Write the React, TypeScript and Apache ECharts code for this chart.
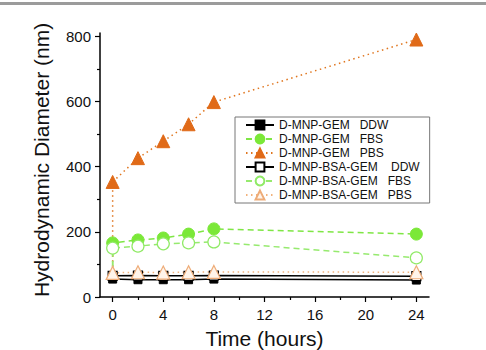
import { useEffect, useRef } from "react";
import * as echarts from "echarts";

// Sampling times (hours)
const hours = [0, 2, 4, 6, 8, 24];

// Hydrodynamic diameter (nm) per formulation and medium
const gemDDW = [55, 53, 53, 53, 55, 52];
const gemFBS = [166, 175, 181, 193, 209, 193];
const gemPBS = [353, 426, 478, 530, 598, 790];
const bsaDDW = [65, 66, 65, 65, 66, 64];
const bsaFBS = [150, 156, 163, 166, 169, 120];
const bsaPBS = [74, 76, 75, 76, 77, 76];

// Size of the particles before the medium is added (t = 0)
const startSize = 62;

// Axis ticks
const xTicks = [0, 4, 8, 12, 16, 20, 24];
const xMinorTicks = [2, 6, 10, 14, 18, 22];
const yTicks = [0, 200, 400, 600, 800];
const yMinorTicks = [100, 300, 500, 700];

const FONT = "'Liberation Sans', Arial, Helvetica, sans-serif";
const INK = "#111";

function points(values: number[], fromStart = false) {
  const d: any[] = hours.map((h, i) => [h, values[i]]);
  if (fromStart) d.unshift({ value: [0, startSize], symbol: "none" });
  return d;
}

export default function App() {
  const ref = useRef<HTMLDivElement>(null);

  useEffect(() => {
    if (!ref.current) return;
    const chart = echarts.init(ref.current, undefined, { renderer: "svg" });

    const lineSeries = (
      name: string,
      data: any[],
      symbol: string,
      symbolSize: number,
      lineColor: string,
      lineType: any,
      fill: string,
      border: string,
      borderWidth: number
    ) => ({
      name,
      type: "line",
      data,
      symbol,
      symbolSize,
      showAllSymbol: true,
      lineStyle: { color: lineColor, width: 1.5, type: lineType },
      itemStyle: { color: fill, borderColor: border, borderWidth },
      emphasis: { disabled: true },
    });

    chart.setOption({
      animation: false,
      backgroundColor: "#fff",
      textStyle: { fontFamily: FONT },
      graphic: [
        {
          type: "rect",
          shape: { x: 0, y: 2, width: 486, height: 3 },
          style: { fill: "#9b9b9b" },
          silent: true,
        },
        {
          // y-axis title
          type: "text",
          x: 41,
          y: 160,
          rotation: Math.PI / 2,
          style: {
            text: "Hydrodynamic Diameter (nm)",
            fontSize: 21,
            fontFamily: FONT,
            fill: INK,
            align: "center",
            verticalAlign: "middle",
          },
          silent: true,
        },
      ],
      grid: {
        left: 100,
        right: 57,
        top: 33,
        bottom: 53,
        containLabel: false,
        outerBoundsMode: "none",
      },
      legend: {
        orient: "vertical",
        left: 235,
        top: 117,
        itemWidth: 28,
        itemHeight: 11,
        itemGap: 2,
        padding: [2, 10, 2, 10],
        borderColor: "#777",
        borderWidth: 1,
        backgroundColor: "#fff",
        textStyle: { fontSize: 12, color: INK, fontFamily: FONT },
      },
      xAxis: [
        {
          type: "value",
          min: -1,
          max: 25,
          name: "Time (hours)",
          nameLocation: "middle",
          nameGap: 31,
          nameTextStyle: { fontSize: 21, color: INK, fontFamily: FONT },
          axisLine: { onZero: false, lineStyle: { color: "#000", width: 1.5 } },
          axisTick: {
            customValues: xTicks,
            length: 5,
            lineStyle: { color: "#000", width: 1.2 },
          },
          axisLabel: {
            customValues: xTicks,
            fontSize: 15,
            color: INK,
            margin: 10,
            fontFamily: FONT,
          },
          splitLine: { show: false },
        },
        {
          type: "value",
          min: -1,
          max: 25,
          position: "bottom",
          axisLine: { show: false, onZero: false },
          axisTick: {
            customValues: xMinorTicks,
            length: 3,
            lineStyle: { color: "#000", width: 1.2 },
          },
          axisLabel: { show: false },
          splitLine: { show: false },
        },
      ],
      yAxis: [
        {
          type: "value",
          min: 0,
          max: 810,
          axisLine: { show: true, onZero: false, lineStyle: { color: "#000", width: 1.5 } },
          axisTick: {
            show: true,
            customValues: yTicks,
            length: 5,
            lineStyle: { color: "#000", width: 1.2 },
          },
          axisLabel: {
            customValues: yTicks,
            fontSize: 15,
            color: INK,
            margin: 9,
            fontFamily: FONT,
          },
          splitLine: { show: false },
        },
        {
          type: "value",
          min: 0,
          max: 810,
          position: "left",
          axisLine: { show: false, onZero: false },
          axisTick: {
            show: true,
            customValues: yMinorTicks,
            length: 3,
            lineStyle: { color: "#000", width: 1.2 },
          },
          axisLabel: { show: false },
          splitLine: { show: false },
        },
      ],
      series: [
        lineSeries("D-MNP-GEM   DDW", points(gemDDW), "rect", 8, "#000", "solid", "#000", "#000", 1),
        lineSeries("D-MNP-GEM   FBS", points(gemFBS, true), "circle", 12, "#7fe645", [6, 4], "#7be838", "#7be838", 1),
        lineSeries("D-MNP-GEM   PBS", points(gemPBS, true), "triangle", 13, "#e0761f", [1.5, 3.5], "#e06a18", "#e06a18", 1),
        lineSeries("D-MNP-BSA-GEM    DDW", points(bsaDDW), "rect", 9, "#000", "solid", "#fff", "#000", 1.2),
        lineSeries("D-MNP-BSA-GEM   FBS", points(bsaFBS, true), "circle", 12, "#96ea6e", [6, 4], "#fff", "#90ea66", 1.2),
        lineSeries("D-MNP-BSA-GEM   PBS", points(bsaPBS), "triangle", 13, "#f2b27c", [1.5, 3.5], "#fff4ea", "#eeac78", 1.2),
      ],
    });

    return () => chart.dispose();
  }, []);

  return (
    <div
      ref={ref}
      style={{ position: "absolute", left: 0, top: 0, width: 486, height: 350 }}
    />
  );
}
